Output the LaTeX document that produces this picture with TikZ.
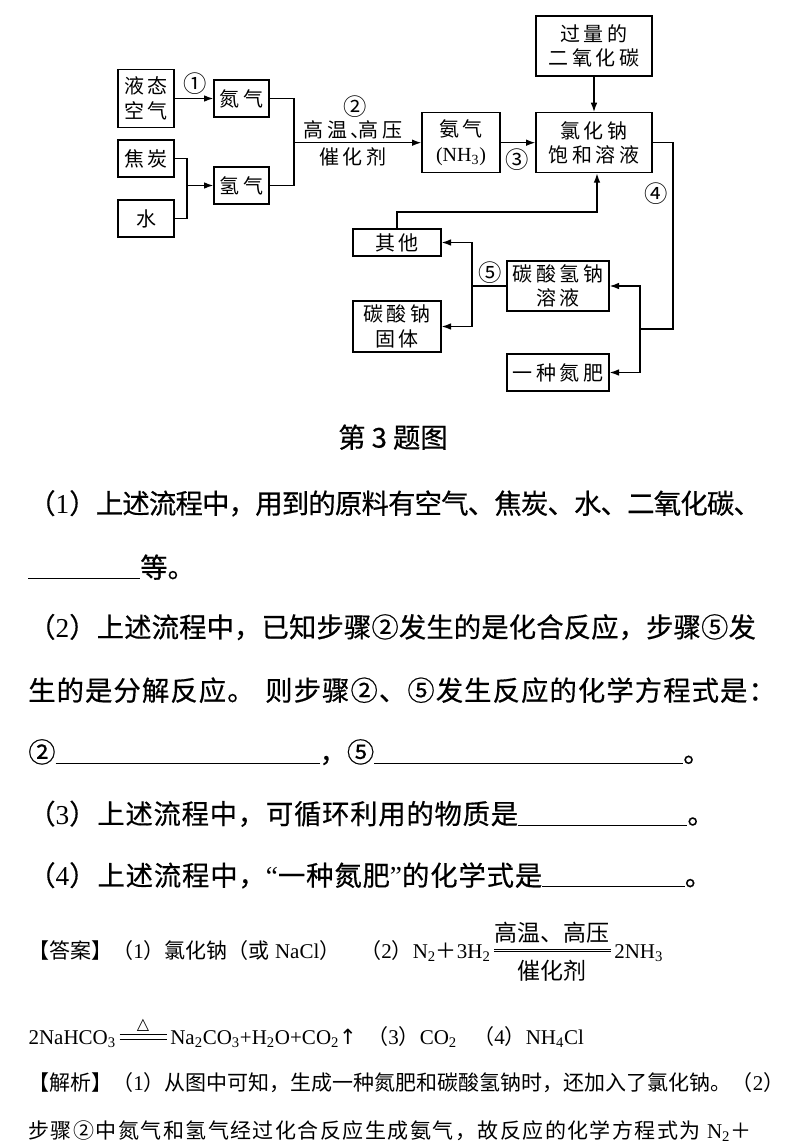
\documentclass[tikz,border=0pt]{standalone}
\usepackage{fontspec}
\usepackage{tikz}
\usetikzlibrary{arrows.meta}
\setmainfont{Liberation Serif}
\newfontfamily\cjk{Noto Sans CJK SC}
\newfontfamily\cjkheavy{Noto Sans CJK SC}[FakeBold=0.5]
\newfontfamily\cjkwide{Noto Sans CJK SC}[LetterSpace=18]
\newfontfamily\sym{DejaVu Sans}
\newcommand\en[1]{{\rmfamily #1}}
\newcommand\dn[1]{\textsubscript{#1}}
\newcommand\blank[1]{\rule[-0.06em]{#1}{0.8pt}}

\begin{document}
\begin{tikzpicture}[x=0.75pt, y=-0.75pt,
    box/.style={draw, line width=1pt, inner sep=0pt, align=center, font=\cjkwide\fontsize{15}{18.5}\selectfont},
    wire/.style={line width=1pt},
    link/.style={line width=1pt, -{Latex[length=7pt, width=5pt]}},
    num/.style={inner sep=0pt, font=\cjk\fontsize{17.5}{18}\selectfont},
    tag/.style={inner sep=0pt, font=\cjkwide\fontsize{15}{16}\selectfont},
    qline/.style={anchor=base west, inner sep=0pt, font=\cjkheavy\fontsize{20.5}{24}\selectfont},
    aline/.style={anchor=base west, inner sep=0pt, font=\cjk\fontsize{15.75}{19}\selectfont},
    cond/.style={inner sep=0pt, font=\cjk\fontsize{17.25}{19}\selectfont},
    eqline/.style={line width=0.6pt, shorten <=2.5pt, shorten >=2.5pt}
]
    \useasboundingbox (0,0) rectangle (788,1145);

    % Raw materials
    \node[box, minimum width=42pt, minimum height=43.5pt] (air) at (146,98.5) {液态\\空气};
    \node[box, minimum width=42pt, minimum height=27.75pt] (coke) at (146,158.5) {焦炭};
    \node[box, minimum width=42pt, minimum height=27.75pt] (water) at (146,218.5) {水};
    \node[box, minimum width=87pt, minimum height=45pt] (carbon) at (594,46) {过量的\\二氧化碳};

    % Gases
    \node[box, minimum width=41.25pt, minimum height=27.75pt] (nitro) at (241.5,98.5) {氮气};
    \node[box, minimum width=41.25pt, minimum height=27.75pt] (hydro) at (241.5,185.5) {氢气};
    \node[box, minimum width=58.5pt, minimum height=45pt] (ammo) at (461,142.7) {氨气\\\en{(NH\dn{3})}};

    % Solutions and products
    \node[box, minimum width=87pt, minimum height=45pt] (brine) at (594,142.7) {氯化钠\\饱和溶液};
    \node[box, minimum width=76.5pt, minimum height=37.5pt] (soda) at (558,286) {碳酸氢钠\\溶液};
    \node[box, minimum width=76.5pt, minimum height=27.75pt] (fert) at (558,372.5) {一种氮肥};
    \node[box, minimum width=66pt, minimum height=20.25pt] (rest) at (397,242.5) {其他};
    \node[box, minimum width=66pt, minimum height=38.25pt] (ash) at (397,326.5) {碳酸钠\\固体};

    % Junctions
    \coordinate (jA) at (187,185.5);
    \coordinate (jB) at (294,142.7);
    \coordinate (jC) at (640,329);
    \coordinate (jD) at (673,329);
    \coordinate (jE) at (472,286);
    \coordinate (jF) at (597,212);

    % Flow lines
    \draw[link] (air) -- (nitro);
    \draw[wire] (coke.east) -| (jA) |- (water.east);
    \draw[link] (jA) -- (hydro);
    \draw[wire] (nitro.east) -| (jB) |- (hydro.east);
    \draw[link] (jB) -- (ammo);
    \draw[link] (ammo) -- (brine);
    \draw[link] (carbon) -- (brine);
    \draw[wire] (brine.east) -| (jD) -- (jC);
    \draw[link] (jC) |- (soda.east);
    \draw[link] (jC) |- (fert.east);
    \draw[wire] (soda.west) -- (jE);
    \draw[link] (jE) |- (rest.east);
    \draw[link] (jE) |- (ash.east);
    \draw[link] (rest.north) |- (jF) -- (jF |- brine.south);

    % Step numbers and conditions
    \node[num] (s1) at (195,83.3) {①};
    \node[num] (s2) at (355,106.7) {②};
    \node[tag] (heat) at (353,130) {高温、\kern-0.6em高压};
    \node[tag] (cat) at (353,157.3) {催化剂};
    \node[num] (s3) at (517.3,159.3) {③};
    \node[num] (s4) at (656,193.3) {④};
    \node[num] (s5) at (490,272.7) {⑤};

    % Caption
    \node[qline, anchor=base] (cap) at (393,447.6) {第 3 题图};

    % Questions
    \node[qline] (q1) at (28,513.6) {\addfontfeature{LetterSpace=-2.8}（\en{1}）上述流程中，用到的原料有空气、焦炭、水、二氧化碳、};
    \node[qline] (q1b) at (28,577.6) {\blank{84pt}等。};
    \node[qline] (q2) at (28,637.3) {\addfontfeature{LetterSpace=0.5}（\en{2}）上述流程中，已知步骤②发生的是化合反应，步骤⑤发};
    \node[qline] (q2b) at (28,700.6) {\addfontfeature{LetterSpace=4}生的是分解反应。\hspace{8pt}则步骤②、⑤发生反应的化学方程式是：};
    \node[qline] (q2c) at (28,762.3) {②\blank{198pt}，⑤\blank{231.75pt}。};
    \node[qline] (q3) at (28,824) {\addfontfeature{LetterSpace=2.8}（\en{3}）上述流程中，可循环利用的物质是\blank{127pt}。};
    \node[qline] (q4) at (28,885.6) {\addfontfeature{LetterSpace=3.2}（\en{4}）上述流程中，\en{“}一种氮肥\en{”}的化学式是\blank{107pt}。};

    % Answers
    \node[aline] (ansA) at (28,958) {【答案】（\en{1}）氯化钠（或\en{ NaCl}）};
    \node[aline] (ansB) at (360,958) {（\en{2}）\en{N\dn{2}}＋\en{3H\dn{2}}};
    \node[aline] (ansC) at (614,958) {\en{2NH\dn{3}}};
    \draw[eqline] ([yshift=6.5pt]ansB.base east) -- node[cond, above=4.5pt] (up) {高温、高压} ([yshift=6.5pt]ansC.base west);
    \draw[eqline] ([yshift=4.6pt]ansB.base east) -- node[cond, below=6pt] (down) {催化剂} ([yshift=4.6pt]ansC.base west);

    \node[aline] (ansD) at (28.3,1044) {\en{2NaHCO\dn{3}}};
    \node[aline] (ansE) at (170,1044) {\en{Na\dn{2}CO\dn{3}+H\dn{2}O+CO\dn{2}}{\sym ↑}};
    \draw[eqline] ([yshift=6.9pt]ansD.base east) -- node[inner sep=0pt, above=2.5pt, font=\sym\fontsize{12}{12}\selectfont] (tri) {△} ([yshift=6.9pt]ansE.base west);
    \draw[eqline] ([yshift=3.6pt]ansD.base east) -- ([yshift=3.6pt]ansE.base west);
    \node[aline] (ansF) at (367,1044) {（\en{3}）\en{CO\dn{2}}};
    \node[aline] (ansG) at (473,1044) {（\en{4}）\en{NH\dn{4}Cl}};

    % Analysis
    \node[aline] (ansH) at (28,1090) {【解析】（\en{1}）从图中可知，生成一种氮肥和碳酸氢钠时，还加入了氯化钠。（\en{2}）};
    \node[aline] (ansI) at (28,1138) {\addfontfeature{LetterSpace=7}步骤②中氮气和氢气经过化合反应生成氨气，故反应的化学方程式为 \en{N\dn{2}}＋};
\end{tikzpicture}
\end{document}
